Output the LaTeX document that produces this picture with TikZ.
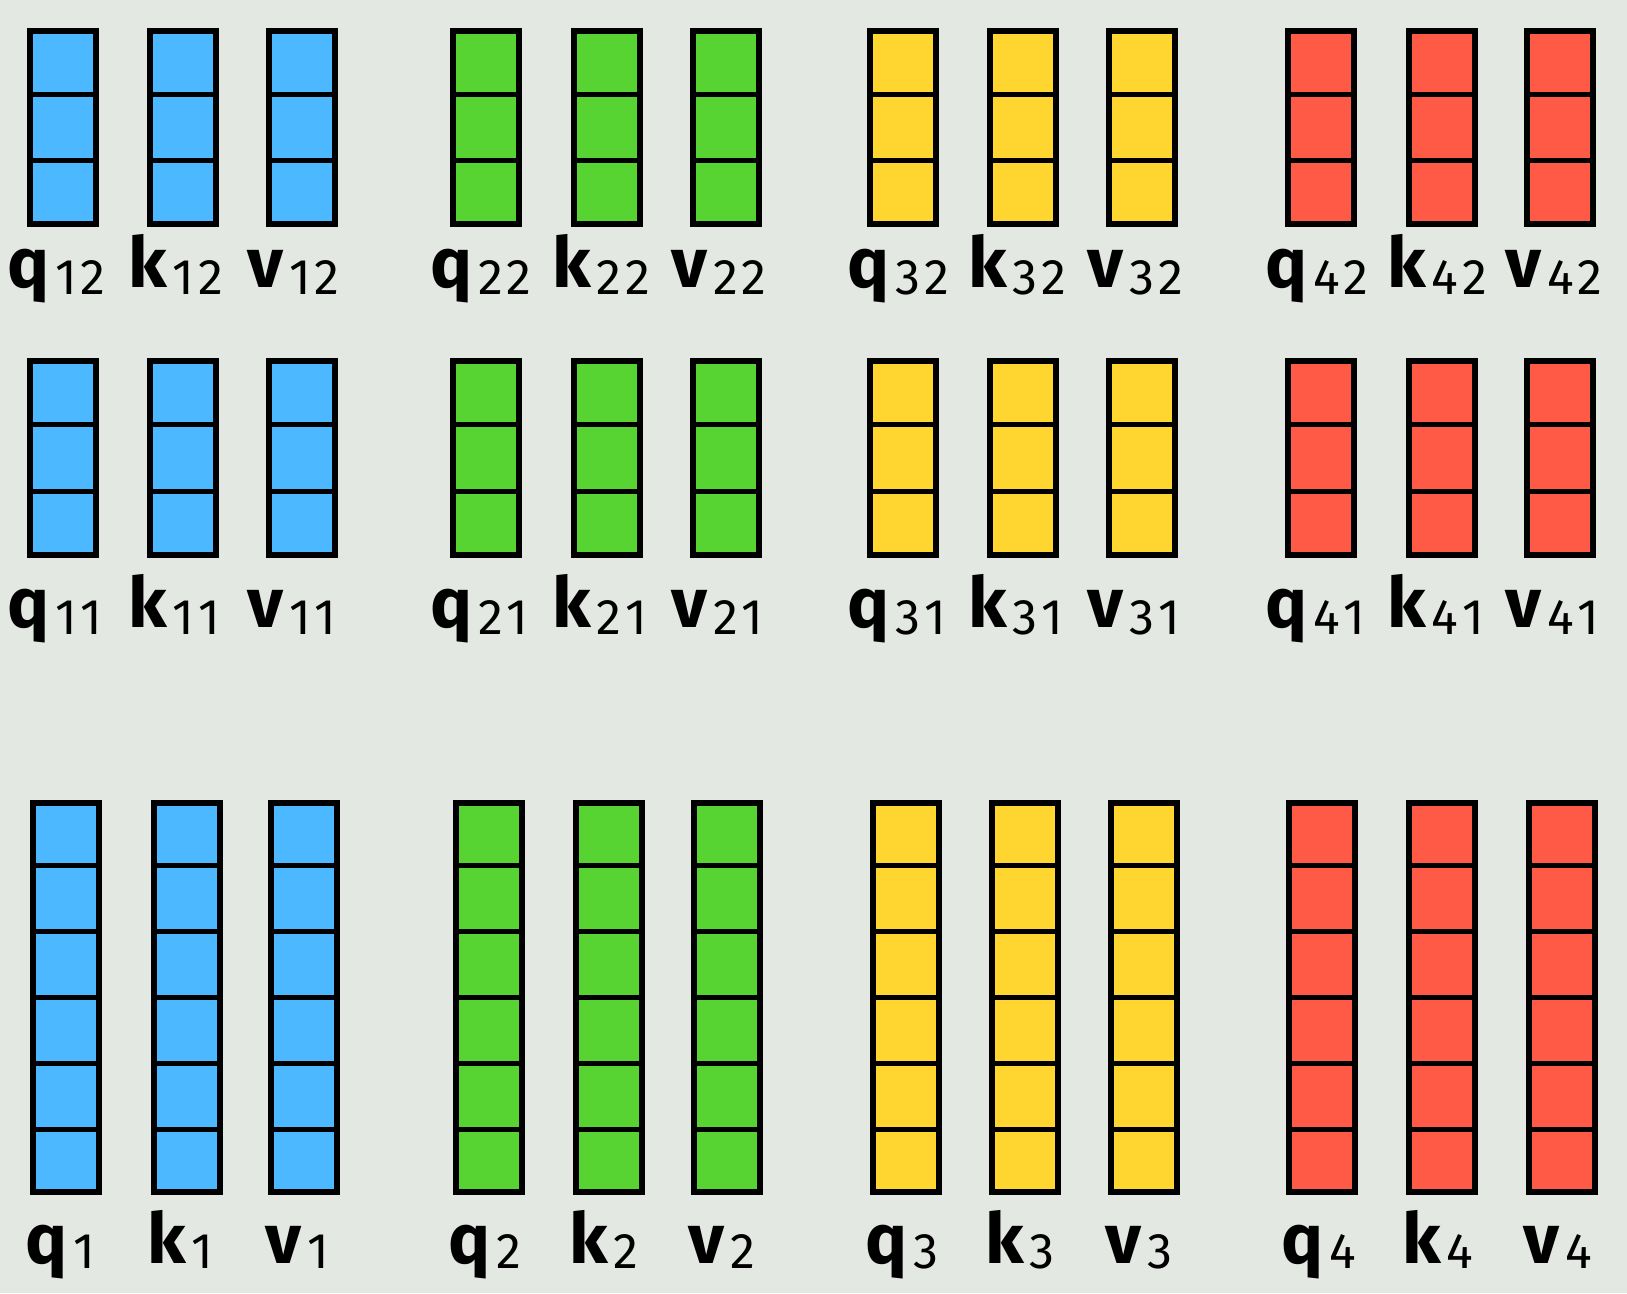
\documentclass[tikz,border=0pt]{standalone}
\usepackage{fontspec}
\setmainfont{Fira Sans}
\usetikzlibrary{calc}
\definecolor{bgc}{HTML}{E4E8E2}
\definecolor{cblue}{HTML}{4BB8FF}
\definecolor{cgreen}{HTML}{58D432}
\definecolor{cyellow}{HTML}{FFD52F}
\definecolor{cred}{HTML}{FF5A45}
% #1 left, #2 top, #3 bottom, #4 cells, #5 colour, #6 name
\newcommand\vcol[6]{%
  \node[vecbox, fill=#5, minimum height={#3-#2-6}, anchor=north west] (#6) at (#1+3,#2+3) {};
  \foreach \i in {1,...,\numexpr#4-1\relax}{%
    \draw[divline] ($(#6.north west)!\i/#4!(#6.south west)$) -- ($(#6.north east)!\i/#4!(#6.south east)$);
  }%
}
\newcommand\lab[3]{#1\kern6pt\raisebox{-7pt}{\fontsize{50}{50}\selectfont\mdseries #2\kern4pt #3}}
\newcommand\labs[2]{#1\kern6pt\raisebox{-5pt}{\fontsize{50}{50}\selectfont\mdseries #2}}
\begin{document}
\begin{tikzpicture}[x=1pt,y=-1pt,
  vecbox/.style={draw=black, line width=6pt, minimum width=66pt, inner sep=0pt},
  divline/.style={draw=black, line width=5pt},
  lbl/.style={anchor=base west, inner sep=0pt, text=black, font=\fontsize{70}{70}\selectfont\bfseries}]
\fill[bgc] (0,0) rectangle (1627,1293);
\useasboundingbox (0,0) rectangle (1627,1293);
% rows 1 and 2
\foreach \g/\c/\la/\lb/\lc in {1/cblue/24/144/263, 2/cgreen/447/568/687, 3/cyellow/864/984/1103, 4/cred/1282/1403/1521}{
  \vcol{\la}{25}{224}{3}{\c}{q\g2}
  \vcol{\lb}{25}{224}{3}{\c}{k\g2}
  \vcol{\lc}{25}{224}{3}{\c}{v\g2}
  \node[lbl] (lq\g2) at (\la-17,287) {\lab{q}{\g}{2}};
  \node[lbl] (lk\g2) at (\lb-16,287) {\lab{k}{\g}{2}};
  \node[lbl] (lv\g2) at (\lc-16,287) {\lab{v}{\g}{2}};
  \vcol{\la}{355}{555}{3}{\c}{q\g1}
  \vcol{\lb}{355}{555}{3}{\c}{k\g1}
  \vcol{\lc}{355}{555}{3}{\c}{v\g1}
  \node[lbl] (lq\g1) at (\la-17,627) {\lab{q}{\g}{1}};
  \node[lbl] (lk\g1) at (\lb-16,627) {\lab{k}{\g}{1}};
  \node[lbl] (lv\g1) at (\lc-16,627) {\lab{v}{\g}{1}};
}
% row 3
\foreach \g/\c/\la/\lb/\lc in {1/cblue/27/148/265, 2/cgreen/450/570/688, 3/cyellow/867/986/1105, 4/cred/1283/1403/1523}{
  \vcol{\la}{797}{1192}{6}{\c}{q\g}
  \vcol{\lb}{797}{1192}{6}{\c}{k\g}
  \vcol{\lc}{797}{1192}{6}{\c}{v\g}
  \node[lbl] (lq\g) at (\la-2,1263) {\labs{q}{\g}};
  \node[lbl] (lk\g) at (\lb-1,1263) {\labs{k}{\g}};
  \node[lbl] (lv\g) at (\lc,1263) {\labs{v}{\g}};
}
\end{tikzpicture}
\end{document}
